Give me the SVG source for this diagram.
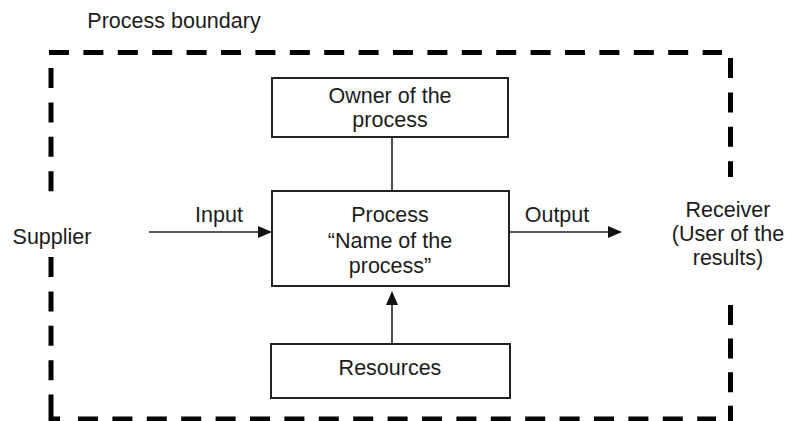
<svg xmlns="http://www.w3.org/2000/svg" width="788" height="421" viewBox="0 0 788 421">
  <style>
    .bg { fill: #ffffff; }
    .boundary { fill: none; stroke: #000000; stroke-width: 5; stroke-dasharray: 20 14.4; }
    .corner { fill: none; stroke: #000000; stroke-width: 5; }
    .box { fill: #ffffff; stroke: #222222; stroke-width: 2; }
    .link { fill: none; stroke: #222222; stroke-width: 1.6; }
    .head { fill: #111111; }
    text { font-family: "Liberation Sans", Arial, sans-serif; font-size: 21.5px; fill: #1c1c1c; text-anchor: middle; }
  </style>

  <rect class="bg" x="0" y="0" width="788" height="421"/>

  <!-- process boundary (dashed frame, open beside the outside parties) -->
  <g id="boundary">
    <text x="174" y="28">Process boundary</text>
    <line class="boundary" x1="49" y1="52.5" x2="722" y2="52.5"/>
    <line class="boundary" x1="51" y1="68" x2="51" y2="192"/>
    <line class="boundary" x1="51" y1="257" x2="51" y2="380.5"/>
    <path class="corner" d="M51,394.6 V419 H60"/>
    <line class="boundary" x1="78" y1="419" x2="716" y2="419"/>
    <line class="boundary" x1="730.5" y1="58" x2="730.5" y2="177"/>
    <line class="boundary" x1="730.5" y1="305" x2="730.5" y2="421" style="stroke-dasharray: 20 13.6"/>
  </g>

  <g id="supplier">
    <text x="52" y="244">Supplier</text>
  </g>

  <g id="receiver">
    <text x="728" y="217">Receiver</text>
    <text x="728" y="241">(User of the</text>
    <text x="728" y="265">results)</text>
  </g>

  <g id="owner">
    <rect class="box" x="272" y="78" width="236" height="59"/>
    <text x="390" y="103">Owner of the</text>
    <text x="390" y="127">process</text>
  </g>

  <g id="process">
    <rect class="box" x="272" y="191" width="237" height="95"/>
    <text x="390" y="222">Process</text>
    <text x="390" y="248">“Name of the</text>
    <text x="390" y="273">process”</text>
  </g>

  <g id="resources">
    <rect class="box" x="271" y="344" width="239" height="54"/>
    <text x="390" y="375">Resources</text>
  </g>

  <!-- connectors -->
  <g id="connectors">
    <line class="link" x1="392" y1="137" x2="392" y2="191"/>

    <line class="link" x1="149" y1="232" x2="260" y2="232"/>
    <polygon class="head" points="272,232 258,226 258,238"/>
    <text x="219" y="222">Input</text>

    <line class="link" x1="509" y1="232" x2="610" y2="232"/>
    <polygon class="head" points="622,232 608,226 608,238"/>
    <text x="557" y="222">Output</text>

    <line class="link" x1="392" y1="344" x2="392" y2="303"/>
    <polygon class="head" points="392,291 386,305 398,305"/>
  </g>
</svg>
